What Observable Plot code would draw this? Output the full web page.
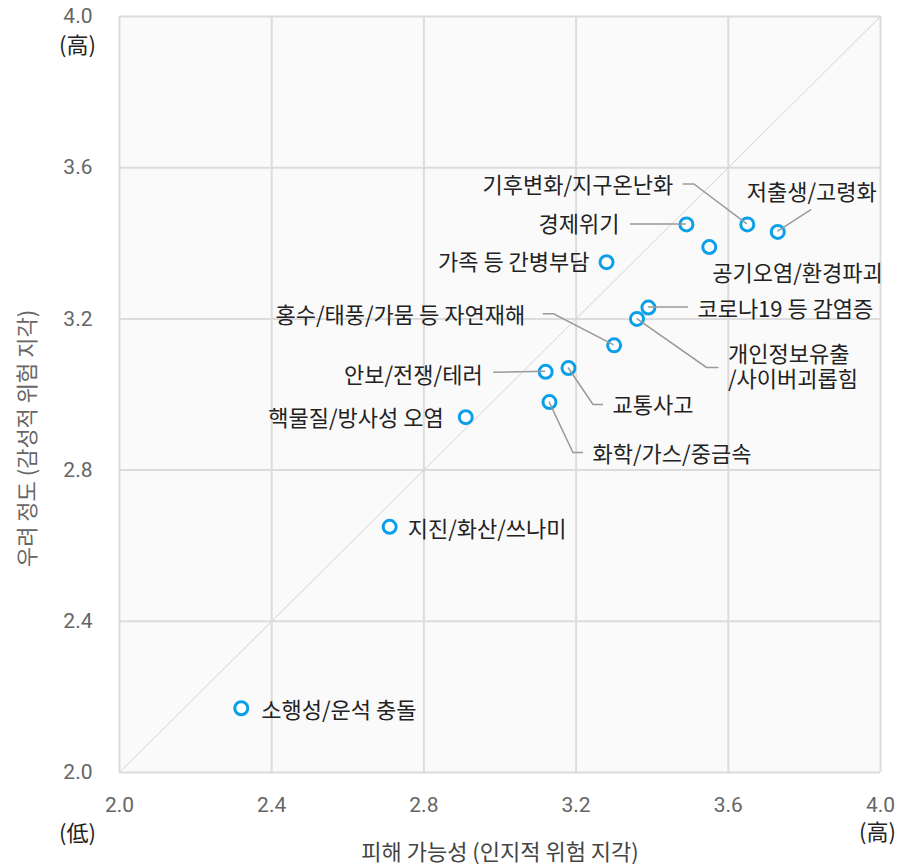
<!DOCTYPE html>
<html><head><meta charset="utf-8">
<script src="https://cdn.jsdelivr.net/npm/d3@7"></script>
<script src="https://cdn.jsdelivr.net/npm/@observablehq/plot@0.6"></script>
<style>body{margin:0;background:#fff} #chart svg{display:block}</style>
</head><body><div id="chart"></div>
<script>
// ---- data ----
const topics = ["저출생/고령화","기후변화/지구온난화","경제위기","공기오염/환경파괴","가족 등 간병부담","코로나19 등 감염증","개인정보유출\n/사이버괴롭힘","홍수/태풍/가뭄 등 자연재해","안보/전쟁/테러","교통사고","화학/가스/중금속","핵물질/방사성 오염","지진/화산/쓰나미","소행성/운석 충돌"];
const damage = [3.73,3.65,3.49,3.55,3.28,3.39,3.36,3.30,3.12,3.18,3.13,2.91,2.71,2.32];
const worry  = [3.43,3.45,3.45,3.39,3.35,3.23,3.20,3.13,3.06,3.07,2.98,2.94,2.65,2.17];
const axisTicks = [2.0,2.4,2.8,3.2,3.6,4.0];
const axisRange = [2.0,4.0];
const xTitle = "피해 가능성 (인지적 위험 지각)";
const yTitle = "우려 정도 (감성적 위험 지각)";
const lowMark = "(低)";
const highMark = "(高)";

// ---- label layout (pixel offsets from each point) ----
const labelLayout = [
  {anchor:"start", dx:-31, dy:-40, leader:[[34,-22]]},
  {anchor:"end",   dx:-74, dy:-39, leader:[[-53,-40],[-64,-40]]},
  {anchor:"end",   dx:-67, dy:0,   leader:[[-56,0]]},
  {anchor:"start", dx:3,   dy:26},
  {anchor:"end",   dx:-17, dy:0},
  {anchor:"start", dx:49,  dy:1,   leader:[[40,0]]},
  {anchor:"start", dx:91,  dy:48,  leader:[[70,49],[82,49]]},
  {anchor:"end",   dx:-89, dy:-30, leader:[[-60,-31],[-71,-31]]},
  {anchor:"end",   dx:-63, dy:3,   leader:[[-52,1]]},
  {anchor:"start", dx:44,  dy:37,  leader:[[25,37],[35,37]]},
  {anchor:"start", dx:43,  dy:52,  leader:[[24,51],[34,51]]},
  {anchor:"end",   dx:-22, dy:1},
  {anchor:"start", dx:18,  dy:2},
  {anchor:"start", dx:20,  dy:2}
];

const items = topics.map((t,i)=>({topic:t, damage:damage[i], worry:worry[i], i}));
const KR = "'Noto Sans CJK KR', 'Noto Sans', sans-serif";

const labelMarks = items.map((d,i)=>Plot.text([d], {
  x:"damage", y:"worry", text:"topic",
  dx: labelLayout[i].dx, dy: labelLayout[i].dy,
  textAnchor: labelLayout[i].anchor,
  fontSize: 22, fontFamily: KR, fill: "#222", lineHeight: 1.14
}));

const extra = {fontSize:22, fontFamily:KR, textAnchor:"middle", lineAnchor:"middle"};

const chart = Plot.plot({
  width: 899, height: 868,
  marginLeft: 119, marginRight: 19, marginTop: 16, marginBottom: 96,
  style: {fontSize: "21px", fontFamily: "Roboto, sans-serif", color: "#666", background: "#fff", overflow: "visible"},
  x: {domain: axisRange, ticks: axisTicks, tickFormat: d3.format(".1f"), tickSize: 0, tickPadding: 25, label: null},
  y: {domain: axisRange, ticks: axisTicks, tickFormat: d3.format(".1f"), tickSize: 0, tickPadding: 27, label: null},
  marks: [
    Plot.frame({fill: "#fafafa", stroke: null}),
    Plot.ruleX(axisTicks, {stroke: "#dcdcdc", strokeWidth: 2}),
    Plot.ruleY(axisTicks, {stroke: "#dcdcdc", strokeWidth: 2}),
    Plot.line(axisRange.map(v=>({a:v})), {x:"a", y:"a", stroke:"#d4d4d4", strokeWidth:1}),
    Plot.dot(items, {x:"damage", y:"worry", r:6.5, fill:"#fff", stroke:"#0a9fe8", strokeWidth:3}),
    ...labelMarks,
    Plot.text([yTitle], {...extra, frameAnchor:"left", rotate:-90, dx:-92, dy:44, fill:"#666"}),
    Plot.text([xTitle], {...extra, frameAnchor:"bottom", dy:80, fill:"#444"}),
    Plot.text([lowMark], {...extra, frameAnchor:"bottom-left", dx:-42, dy:61, fill:"#222"}),
    Plot.text([highMark], {...extra, frameAnchor:"bottom-right", dx:-3, dy:60, fill:"#222"}),
    Plot.text([highMark], {...extra, frameAnchor:"top-left", dx:-42, dy:29, fill:"#222"})
  ]
});

// leader lines, positioned through the chart's own scales
const sx = chart.scale("x"), sy = chart.scale("y");
const g = d3.select(chart).append("g").attr("fill","none").attr("stroke","#9a9a9a").attr("stroke-width",1.5);
items.forEach((d,i)=>{
  const L = labelLayout[i].leader;
  if (!L) return;
  const px = sx.apply(d.damage), py = sy.apply(d.worry);
  const pts = [[px,py], ...L.map(([ox,oy])=>[px+ox, py+oy])];
  g.append("path").attr("d", d3.line()(pts));
});

document.getElementById("chart").appendChild(chart);
</script></body></html>
